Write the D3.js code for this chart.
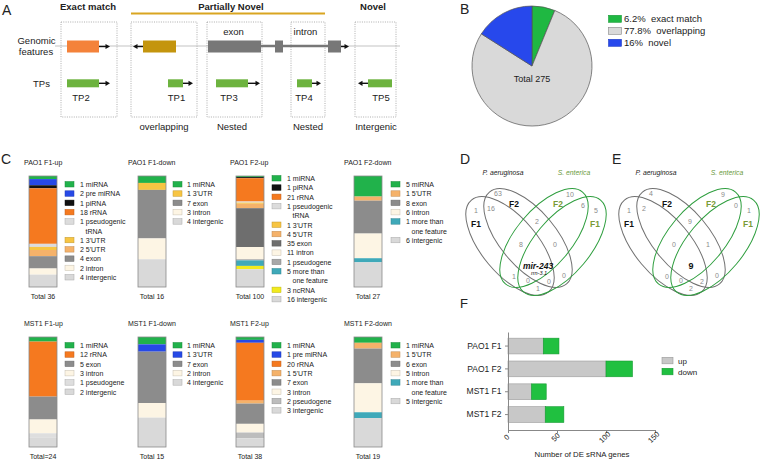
<!DOCTYPE html>
<html><head><meta charset="utf-8">
<script src="https://cdn.jsdelivr.net/npm/d3@7"></script>
<style>body{margin:0;background:#fff}svg{display:block;font-family:"Liberation Sans",Arial,sans-serif}</style>
</head><body><svg id="c" width="760" height="461"></svg>
<script>
// ---------- DATA ----------
const aHeaders = ["Exact match", "Partially Novel", "Novel"];
const aTPs = ["TP2", "TP1", "TP3", "TP4", "TP5"];
const aTypes = ["overlapping", "Nested", "Nested", "Intergenic"];
const aFeatureText = ["exon", "intron"];

const pieLabels = ["exact match", "overlapping", "novel"];
const pieValues = [6.2, 77.8, 16];
const piePct = ["6.2%", "77.8%", "16%"];
const pieTotal = "Total 275";

const stackTitles = ["PAO1 F1-up","PAO1 F1-down","PAO1 F2-up","PAO1 F2-down","MST1 F1-up","MST1 F1-down","MST1 F2-up","MST1 F2-down"];
const stackTotals = ["Total 36","Total 16","Total 100","Total 27","Total=24","Total 15","Total 38","Total 19"];
const pao1F1upCats = ["miRNA","pre miRNA","piRNA","rRNA","pseudogenic|tRNA","3'UTR","5'UTR","exon","intron","intergenic"];
const pao1F1upVals = [1,2,1,18,1,1,2,4,2,4];
const pao1F1downCats = ["miRNA","3'UTR","exon","intron","intergenic"];
const pao1F1downVals = [1,1,7,3,4];
const pao1F2upCats = ["miRNA","piRNA","rRNA","pseudogenic|tRNA","3'UTR","5'UTR","exon","intron","pseudogene","more than|one feature","ncRNA","intergenic"];
const pao1F2upVals = [1,1,21,1,1,4,35,11,1,5,3,16];
const pao1F2downCats = ["miRNA","5'UTR","exon","intron","more than|one feature","intergenic"];
const pao1F2downVals = [5,1,8,6,1,6];
const mst1F1upCats = ["miRNA","rRNA","exon","intron","pseudogene","intergenic"];
const mst1F1upVals = [1,12,5,3,1,2];
const mst1F1downCats = ["miRNA","3'UTR","exon","intron","intergenic"];
const mst1F1downVals = [1,1,7,2,4];
const mst1F2upCats = ["miRNA","pre miRNA","rRNA","5'UTR","exon","intron","pseudogene","intergenic"];
const mst1F2upVals = [1,1,20,1,7,3,2,3];
const mst1F2downCats = ["miRNA","5'UTR","exon","intron","more than|one feature","intergenic"];
const mst1F2downVals = [1,1,6,5,1,5];

const vennSpecies = ["P. aeruginosa", "S. enterica"];
const vennSets = ["F2", "F1", "F2", "F1"];
const vennD = ["63","1","16","2","10","6","5","8","0","mir-243","1","0","0","0","1"];
const vennDsub = "rrn-3.1";
const vennE = ["4","1","2","9","9","0","1","0","1","9","0","0","2","0","2"];

const fCats = ["PAO1 F1","PAO1 F2","MST1 F1","MST1 F2"];
const fUp = [36,100,24,38];
const fDown = [16,27,15,19];
const fTicks = [0,50,100,150];
const fLegend = ["up","down"];
const fTitle = "Number of DE sRNA genes";

// ---------- DRAW ----------
const svg = d3.select("#c");
const g = svg.append("g");
const TXT = "#222";
function T(x, y, s, o = {}) {
  const t = g.append("text").attr("x", x).attr("y", y).text(s)
    .attr("font-size", o.size || 8).attr("fill", o.fill || TXT)
    .attr("text-anchor", o.anchor || "start");
  if (o.weight) t.attr("font-weight", o.weight);
  if (o.style) t.attr("font-style", o.style);
  return t;
}
function arrow(x1, x2, y) {
  const d = x2 > x1 ? 1 : -1;
  g.append("line").attr("x1", x1).attr("x2", x2 - d * 3).attr("y1", y).attr("y2", y)
    .attr("stroke", "#111").attr("stroke-width", 1.4);
  g.append("path").attr("d", `M${x2},${y} L${x2 - d * 4.5},${y - 2.6} L${x2 - d * 4.5},${y + 2.6}Z`).attr("fill", "#111");
}

// panel letters
T(2, 14.5, "A", {size: 14}); T(460, 13.5, "B", {size: 14}); T(1, 163.5, "C", {size: 14});
T(460, 164, "D", {size: 14}); T(612, 164, "E", {size: 14}); T(460, 308, "F", {size: 13});

// ----- Panel A -----
[88, 231, 373].forEach((x, i) => T(x, 9.5, aHeaders[i], {size: 9.5, weight: "bold", anchor: "middle"}));
g.append("line").attr("x1", 131).attr("x2", 325).attr("y1", 13.5).attr("y2", 13.5).attr("stroke", "#d9a521").attr("stroke-width", 2);
[[61,117],[131,197],[207,262],[291,325],[355,396]].forEach(([a, b]) =>
  g.append("rect").attr("x", a).attr("y", 22).attr("width", b - a).attr("height", 95)
    .attr("fill", "none").attr("stroke", "#999").attr("stroke-width", 0.8).attr("stroke-dasharray", "1,1.3"));
T(36.5, 43.5, "Genomic", {size: 9.5, anchor: "middle"});
T(36, 55, "features", {size: 9.5, anchor: "middle"});
T(41.5, 87, "TPs", {size: 9.5, anchor: "middle"});
g.append("line").attr("x1", 55).attr("x2", 400).attr("y1", 46).attr("y2", 46).attr("stroke", "#aaa").attr("stroke-width", 0.7);
g.append("line").attr("x1", 261).attr("x2", 329).attr("y1", 46).attr("y2", 46).attr("stroke", "#777").attr("stroke-width", 2.5);
const feat = (x1, x2, c) => g.append("rect").attr("x", x1).attr("y", 40.5).attr("width", x2 - x1).attr("height", 12).attr("fill", c);
feat(67, 99, "#f4823a"); arrow(99, 110, 46.5);
feat(143, 176, "#c4950e"); arrow(143, 133, 46.5);
feat(208, 261, "#777"); feat(275, 283, "#777"); feat(328, 341, "#777"); arrow(341, 349, 46.5);
T(233.5, 35, aFeatureText[0], {size: 9.5, anchor: "middle"});
T(305.5, 35, aFeatureText[1], {size: 9.5, anchor: "middle"});
const tp = (x1, x2) => g.append("rect").attr("x", x1).attr("y", 79.3).attr("width", x2 - x1).attr("height", 8).attr("fill", "#6db33f");
tp(67, 99); arrow(99, 110, 83.3);
tp(168, 183); arrow(183, 193, 83.3);
tp(216, 248); arrow(248, 260, 83.3);
tp(297, 312); arrow(312, 321, 83.3);
tp(368, 392); arrow(368, 358, 83.3);
[81, 176.5, 229, 304, 381].forEach((x, i) => T(x, 100.5, aTPs[i], {size: 9.5, anchor: "middle"}));
[164, 232, 308, 376].forEach((x, i) => T(x, 130, aTypes[i], {size: 9.5, anchor: "middle"}));

// ----- Panel B -----
const pieColors = ["#1fb842", "#d9d9d9", "#2748ec"];
const pie = d3.pie().sort(null)(pieValues);
const arc = d3.arc().innerRadius(0).outerRadius(60);
const pg = g.append("g").attr("transform", "translate(532,66)");
pg.selectAll("path").data(pie).join("path").attr("d", arc).attr("fill", (d, i) => pieColors[i])
  .attr("stroke", "#555").attr("stroke-width", 0.7);
T(532, 81.5, pieTotal, {size: 9, anchor: "middle"});
pieLabels.forEach((l, i) => {
  const y = 22.3 + i * 12;
  g.append("rect").attr("x", 608.5).attr("y", y - 7).attr("width", 13).attr("height", 7)
    .attr("fill", pieColors[i]).attr("stroke", i === 1 ? "#888" : d3.color(pieColors[i]).darker(0.5)).attr("stroke-width", 0.6);
  T(624, y, piePct[i] + "\u00a0\u00a0" + l, {size: 9.5});
});

// ----- Panel C -----
const catColor = {"miRNA":"#21b24b","pre miRNA":"#2649e6","piRNA":"#111111","rRNA":"#f5791f",
  "pseudogenic|tRNA":"#dcdcdc","3'UTR":"#f7c543","5'UTR":"#f5b26a","exon":"#8c8c8c","intron":"#fdf5e4",
  "intergenic":"#d9d9d9","pseudogene":"#bdbdbd","more than|one feature":"#3fa9b9","ncRNA":"#f1ea1e"};
const cData = [[pao1F1upCats,pao1F1upVals],[pao1F1downCats,pao1F1downVals],[pao1F2upCats,pao1F2upVals],[pao1F2downCats,pao1F2downVals],
  [mst1F1upCats,mst1F1upVals],[mst1F1downCats,mst1F1downVals],[mst1F2upCats,mst1F2upVals],[mst1F2downCats,mst1F2downVals]];
const colX = [{bx:29,lx:65,tx:80,ttl:24},{bx:138,lx:173,tx:187,ttl:128},{bx:236,lx:272,tx:287,ttl:230},{bx:354,lx:391,tx:406,ttl:344}];
const rowY = [{top:176,bot:287,ttl:165,tot:299},{top:337,bot:447,ttl:326,tot:459}];
const overrides = {2:{"exon":"#6e6e6e","pseudogene":"#a8a8a8"},4:{"pseudogene":"#dedede"},5:{"3'UTR":"#2649e6"}};
cData.forEach(([cats, vals], p) => {
  const cx = colX[p % 4], ry = rowY[Math.floor(p / 4)];
  const total = d3.sum(vals);
  const y = d3.scaleLinear().domain([0, total]).range([ry.top, ry.bot]);
  const col = c => (overrides[p] && overrides[p][c]) || catColor[c];
  let cum = 0;
  vals.forEach((v, i) => {
    g.append("rect").attr("x", cx.bx).attr("y", y(cum)).attr("width", 28).attr("height", y(cum + v) - y(cum)).attr("fill", col(cats[i]));
    cum += v;
  });
  g.append("rect").attr("x", cx.bx).attr("y", ry.top).attr("width", 28).attr("height", ry.bot - ry.top)
    .attr("fill", "none").attr("stroke", "#8a8a8a").attr("stroke-width", 0.8);
  T(cx.ttl, ry.ttl, stackTitles[p], {size: 7});
  T(cx.bx + 14, ry.tot, stackTotals[p], {size: 7, anchor: "middle"});
  let row = 0;
  const leg0 = p === 2 ? 181 : (p < 4 ? 187 : 348);
  cats.forEach((c, i) => {
    const by = leg0 + row * 9.3;
    const cc = col(c);
    g.append("rect").attr("x", cx.lx).attr("y", by - 5.5).attr("width", 9).attr("height", 5.5)
      .attr("fill", cc).attr("stroke", d3.color(cc).darker(0.7)).attr("stroke-width", 0.5);
    const lines = c.split("|");
    lines.forEach((ln, k) => {
      T(k === 0 ? cx.tx : cx.tx + 5.5, by + k * 9.3, (k === 0 ? vals[i] + " " : "") + ln, {size: 7});
    });
    row += lines.length;
  });
});

// ----- Panels D & E (Venn) -----
const ellipses = [{dx:-26,cy:246,rot:50,c:"#707070"},{dx:-8,cy:238,rot:50,c:"#707070"},{dx:8,cy:238,rot:-50,c:"#2e9e3e"},{dx:26,cy:246,rot:-50,c:"#2e9e3e"}];
const regionPos = [[-38,193],[-60,210],[-45,208],[1,221],[34,194],[47,205],[60,210],[-15,244],[19,244],[2,269],[-22,276],[-8,280],[13,281],[28,275],[2,288.5]];
const setPos = [[-22,207,"#111"],[-60,227,"#111"],[22,207,"#7a9a35"],[59,227,"#7a9a35"]];
function venn(cx, vals, sub) {
  T(cx - 33, 175, vennSpecies[0], {size: 6.8, style: "italic", anchor: "middle"});
  T(cx + 38, 175, vennSpecies[1], {size: 6.8, style: "italic", anchor: "middle", fill: "#6b9a3b"});
  ellipses.forEach(e => g.append("ellipse").attr("rx", 60).attr("ry", 28)
    .attr("transform", `translate(${cx + e.dx},${e.cy}) rotate(${e.rot})`)
    .attr("fill", "none").attr("stroke", e.c).attr("stroke-width", 1));
  setPos.forEach(([dx, y, c], i) => T(cx + dx, y, vennSets[i], {size: 8.5, weight: "bold", anchor: "middle", fill: c}));
  vals.forEach((v, i) => {
    const [dx, y] = regionPos[i];
    if (i === 9) {
      T(cx + dx, y, v, {size: sub ? 8.5 : 9, weight: "bold", style: sub ? "italic" : null, anchor: "middle", fill: "#111"});
    } else {
      T(cx + dx, y + 2.5, v, {size: 7, anchor: "middle", fill: "#8a8a8a"});
    }
  });
  if (sub) T(cx + 3, 274.5, sub, {size: 5.5, style: "italic", anchor: "middle", fill: "#111"});
}
venn(536, vennD, vennDsub);
venn(689, vennE, null);

// ----- Panel F -----
const x = d3.scaleLinear().domain([0, 150]).range([508, 655]);
const y = d3.scaleBand().domain(fCats).range([332, 430]).paddingInner(0.31).paddingOuter(0.3).align(0.45);
const fg = g.append("g");
fCats.forEach((c, i) => {
  fg.append("rect").attr("x", x(0)).attr("y", y(c)).attr("width", x(fUp[i]) - x(0)).attr("height", y.bandwidth())
    .attr("fill", "#c8c8c8").attr("stroke", "#9a9a9a").attr("stroke-width", 0.6);
  fg.append("rect").attr("x", x(fUp[i])).attr("y", y(c)).attr("width", x(fUp[i] + fDown[i]) - x(fUp[i])).attr("height", y.bandwidth())
    .attr("fill", "#20c040").attr("stroke", "#179a33").attr("stroke-width", 0.6);
});
const ya = g.append("g").attr("transform", "translate(508,0)").call(d3.axisLeft(y).tickSize(3).tickSizeOuter(0));
ya.selectAll("text").attr("font-size", 8.5).attr("fill", TXT).attr("font-family", null).attr("dx", -0.5);
const xa = g.append("g").attr("transform", "translate(0,430)").call(d3.axisBottom(x).tickValues(fTicks).tickSize(3).tickSizeOuter(0));
xa.selectAll("text").attr("font-size", 7.5).attr("fill", TXT).attr("font-family", null)
  .attr("text-anchor", "middle").attr("y", 0).attr("dy", 0)
  .attr("transform", "translate(0,9) rotate(-45)");
[ya, xa].forEach(a => { a.selectAll("path,line").attr("stroke", "#888"); a.attr("font-family", null); });
T(582, 457, fTitle, {size: 7.8, anchor: "middle"});
[["#c8c8c8", "#9a9a9a"], ["#20c040", "#179a33"]].forEach(([f, s], i) => {
  g.append("rect").attr("x", 662).attr("y", 357.3 + i * 11).attr("width", 11).attr("height", 6.5).attr("fill", f).attr("stroke", s).attr("stroke-width", 0.6);
  T(678, 363.5 + i * 11, fLegend[i], {size: 8});
});
</script></body></html>
